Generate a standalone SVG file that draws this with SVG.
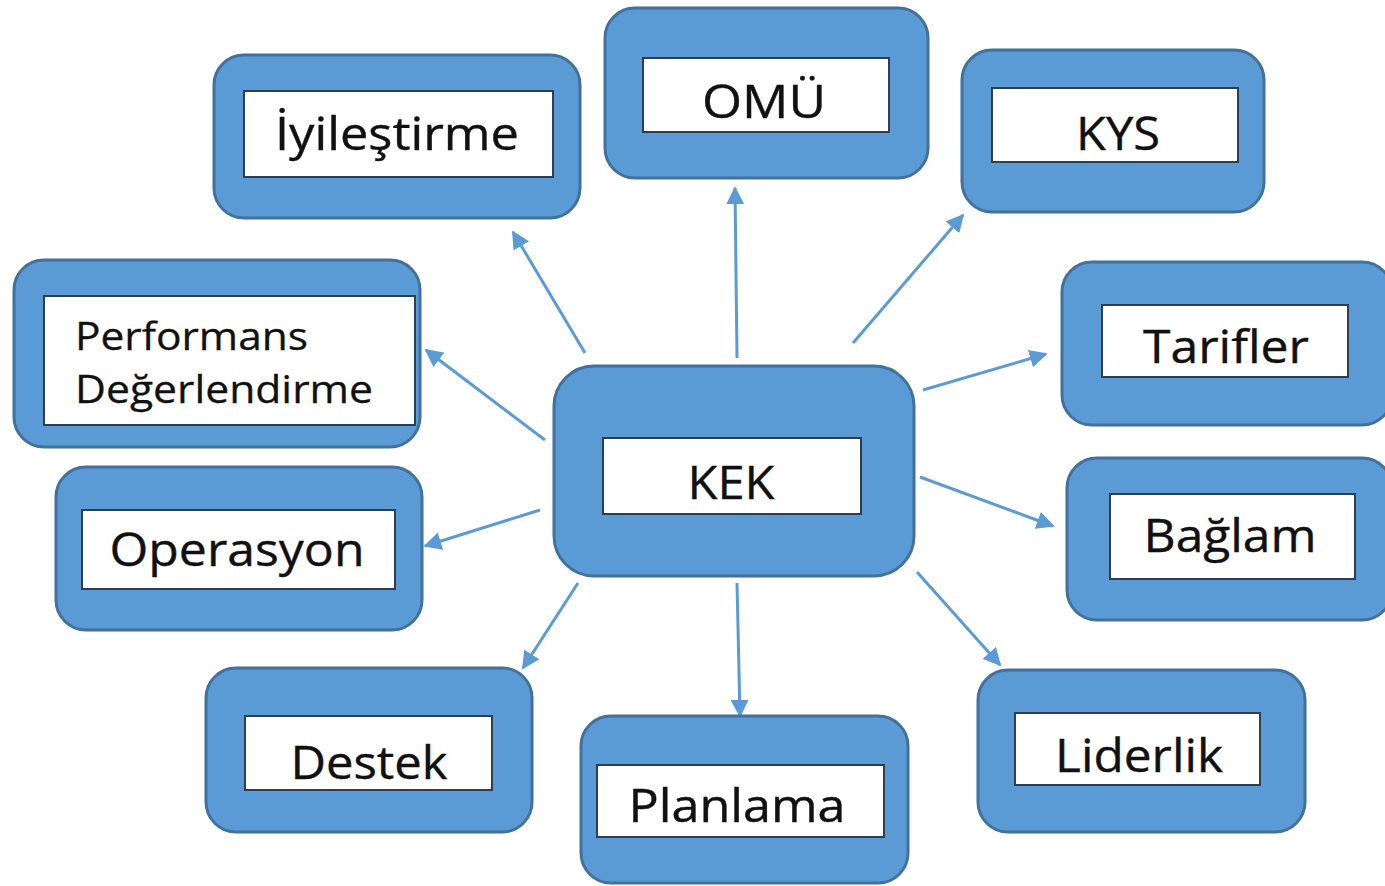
<svg xmlns="http://www.w3.org/2000/svg" width="1385" height="886" viewBox="0 0 1385 886">
<style>
.outer{fill:#5b9bd5;stroke:#41719c;stroke-width:3}
.inner{fill:#ffffff;stroke:#2e3d50;stroke-width:2}
.lbl{font-family:"Open Sans","Liberation Sans",sans-serif;font-size:46px;fill:#111111;text-anchor:middle;stroke:#111111;stroke-width:0.4}
.lbl2{font-family:"Open Sans","Liberation Sans",sans-serif;font-size:38px;fill:#111111;stroke:#111111;stroke-width:0.3}
.conn line{stroke:#5b9bd5;stroke-width:3;marker-end:url(#ah)}
</style>
<defs>
<marker id="ah" viewBox="0 0 10 10" refX="9" refY="5" markerWidth="6" markerHeight="6" orient="auto" markerUnits="strokeWidth">
<path d="M0,0 L10,5 L0,10 z" fill="#5b9bd5"/>
</marker>
</defs>
<rect width="1385" height="886" fill="#ffffff"/>
<g id="connectors" class="conn">
<line x1="585" y1="353" x2="513" y2="232"/>
<line x1="737" y1="358" x2="735" y2="188"/>
<line x1="853" y1="343" x2="963" y2="215"/>
<line x1="923" y1="390" x2="1046" y2="354"/>
<line x1="545" y1="440" x2="426" y2="350"/>
<line x1="540" y1="510" x2="425" y2="546"/>
<line x1="920" y1="477" x2="1053" y2="526"/>
<line x1="578" y1="583" x2="523" y2="668"/>
<line x1="737" y1="583" x2="740" y2="716"/>
<line x1="917" y1="572" x2="1000" y2="665"/>
</g>
<g id="iyilestirme">
<rect class="outer" x="214" y="55" width="366" height="163" rx="30"/>
<rect class="inner" x="244" y="91" width="309" height="86"/>
<text class="lbl" x="397" y="150" textLength="244" lengthAdjust="spacingAndGlyphs">İyileştirme</text>
</g>
<g id="omu">
<rect class="outer" x="605" y="8" width="323" height="170" rx="30"/>
<rect class="inner" x="643" y="58" width="246" height="74"/>
<text class="lbl" x="764" y="118" textLength="124" lengthAdjust="spacingAndGlyphs">OMÜ</text>
</g>
<g id="kys">
<rect class="outer" x="962" y="50" width="302" height="162" rx="30"/>
<rect class="inner" x="992" y="88" width="246" height="74"/>
<text class="lbl" x="1118" y="150" textLength="84" lengthAdjust="spacingAndGlyphs">KYS</text>
</g>
<g id="performans">
<rect class="outer" x="14" y="260" width="406" height="187" rx="30"/>
<rect class="inner" x="44" y="296" width="371" height="129"/>
<text class="lbl2" x="75" y="350" textLength="233" lengthAdjust="spacingAndGlyphs">Performans</text>
<text class="lbl2" x="75" y="403" textLength="298" lengthAdjust="spacingAndGlyphs">Değerlendirme</text>
</g>
<g id="tarifler">
<rect class="outer" x="1062" y="262" width="330" height="163" rx="30"/>
<rect class="inner" x="1102" y="305" width="246" height="72"/>
<text class="lbl" x="1226" y="363" textLength="166" lengthAdjust="spacingAndGlyphs">Tarifler</text>
</g>
<g id="kek">
<rect class="outer" x="554" y="366" width="360" height="210" rx="40"/>
<rect class="inner" x="603" y="438" width="258" height="76"/>
<text class="lbl" x="731" y="499" textLength="87" lengthAdjust="spacingAndGlyphs">KEK</text>
</g>
<g id="operasyon">
<rect class="outer" x="56" y="467" width="366" height="163" rx="30"/>
<rect class="inner" x="82" y="510" width="313" height="79"/>
<text class="lbl" x="237" y="566" textLength="255" lengthAdjust="spacingAndGlyphs">Operasyon</text>
</g>
<g id="baglam">
<rect class="outer" x="1067" y="458" width="325" height="162" rx="30"/>
<rect class="inner" x="1110" y="494" width="245" height="85"/>
<text class="lbl" x="1230" y="552" textLength="173" lengthAdjust="spacingAndGlyphs">Bağlam</text>
</g>
<g id="destek">
<rect class="outer" x="206" y="668" width="326" height="164" rx="30"/>
<rect class="inner" x="245" y="716" width="247" height="74"/>
<text class="lbl" x="369" y="779" textLength="157" lengthAdjust="spacingAndGlyphs">Destek</text>
</g>
<g id="planlama">
<rect class="outer" x="581" y="716" width="327" height="167" rx="30"/>
<rect class="inner" x="597" y="765" width="287" height="72"/>
<text class="lbl" x="737" y="822" textLength="217" lengthAdjust="spacingAndGlyphs">Planlama</text>
</g>
<g id="liderlik">
<rect class="outer" x="978" y="670" width="327" height="162" rx="30"/>
<rect class="inner" x="1015" y="713" width="245" height="72"/>
<text class="lbl" x="1139" y="772" textLength="168" lengthAdjust="spacingAndGlyphs">Liderlik</text>
</g>
</svg>
